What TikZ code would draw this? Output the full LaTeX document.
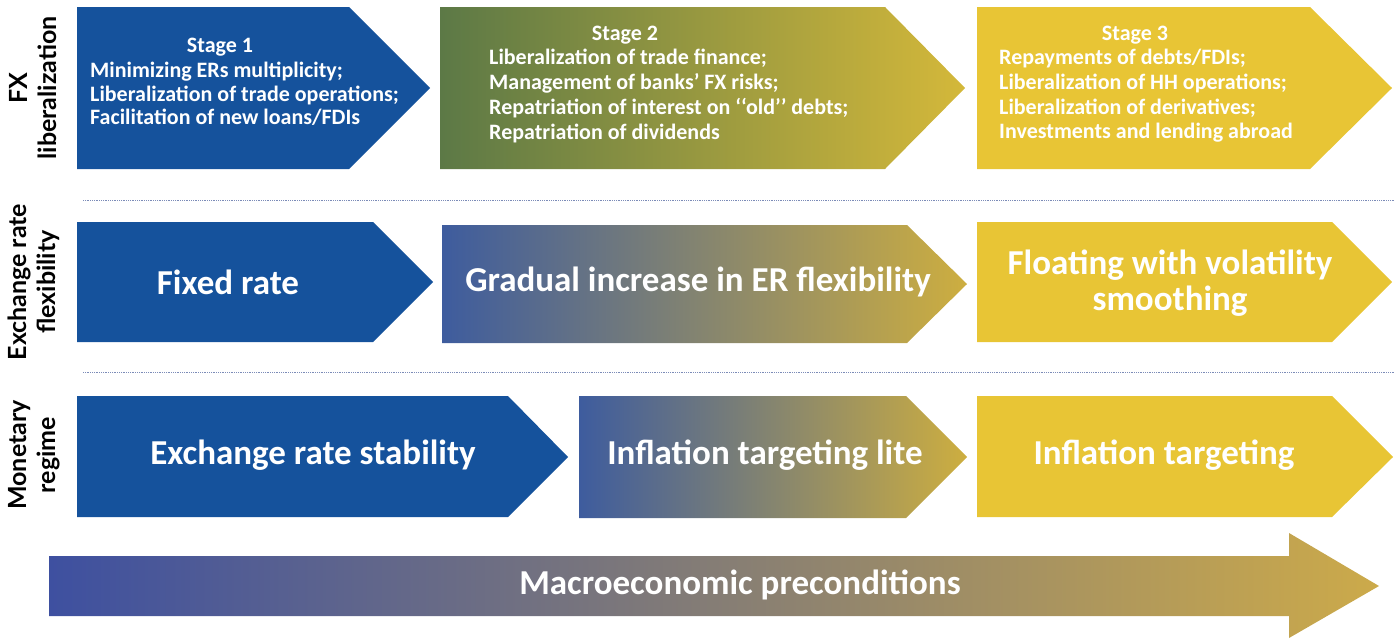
\documentclass[tikz,border=0pt]{standalone}
\usepackage{fontspec}
\setmainfont{Carlito}
\newfontfamily\rowfont{Lato}
\definecolor{erblue}{RGB}{21,82,156}
\definecolor{eryellow}{RGB}{232,197,53}
\definecolor{ergreen}{RGB}{92,121,70}
\definecolor{ergold}{RGB}{212,184,58}
\definecolor{ermidgreen}{RGB}{140,148,64}
\definecolor{erslate}{RGB}{62,92,158}
\definecolor{ergrey}{RGB}{140,138,130}
\definecolor{erochre}{RGB}{205,174,64}
\definecolor{erindigo}{RGB}{62,80,160}
\definecolor{ermauve}{RGB}{143,140,156}
\definecolor{ersand}{RGB}{204,170,74}
\definecolor{sepgrey}{RGB}{124,140,184}
\tikzset{
  bigtext/.style={text=white,font=\fontsize{35}{36}\selectfont\bfseries},
  stagetext/.style={text=white,align=left,inner sep=0pt,
    font=\fontsize{22}{23.3}\selectfont\bfseries},
  widestage/.style={stagetext,font=\fontsize{22}{24.7}\selectfont\bfseries},
  rowlabel/.style={rotate=90,align=center,font=\rowfont\bfseries\fontsize{25}{29}\selectfont},
  sepline/.style={draw=sepgrey,line width=0.8pt,dash pattern=on 0.8pt off 1pt},
}
\begin{document}
\begin{tikzpicture}[x=1pt,y=-1pt]
\useasboundingbox (0,0) rectangle (1400,640);
% row 1: FX liberalization
\fill[erblue] (77,7) -- (349,7) -- (430,88) -- (349,169) -- (77,169) -- cycle;
\shade[left color=ergreen,middle color=ermidgreen,right color=ergold]
  (440,7) -- (885,7) -- (965,88) -- (885,169) -- (440,169) -- cycle;
\fill[eryellow] (977,7) -- (1310,7) -- (1392,88) -- (1310,169) -- (977,169) -- cycle;
\node[stagetext] (st1) at (220,47) {Stage 1};
\node[stagetext,anchor=west] (fx1) at (90,94)
  {Minimizing ERs multiplicity;\\Liberalization of trade operations;\\
   Facilitation of new loans/FDIs};
\node[stagetext] (st2) at (625,35) {Stage 2};
\node[widestage,anchor=west] (fx2) at (489,96)
  {Liberalization of trade finance;\\Management of banks’ FX risks;\\
   Repatriation of interest on ‘‘old’’ debts;\\Repatriation of dividends};
\node[stagetext] (st3) at (1135,35) {Stage 3};
\node[widestage,anchor=west] (fx3) at (999,96)
  {Repayments of debts/FDIs;\\Liberalization of HH operations;\\
   Liberalization of derivatives;\\Investments and lending abroad};
\node[rowlabel] (lfx) at (33,88) {FX\\liberalization};
\draw[sepline] (83,200) -- (1395,200);
% row 2: exchange rate flexibility
\fill[erblue] (77,222) -- (373,222) -- (433,282) -- (373,342) -- (77,342) -- cycle;
\shade[left color=erslate,middle color=ergrey,right color=erochre]
  (442,225) -- (907,225) -- (967,284) -- (907,343) -- (442,343) -- cycle;
\fill[eryellow] (977,222) -- (1332,222) -- (1392,282) -- (1332,342) -- (977,342) -- cycle;
\node[bigtext] (fixed) at (228,282) {Fixed rate};
\node[bigtext] (gradual) at (698,282) {Gradual increase in ER flexibility};
\node[bigtext,align=center] (floating) at (1170,283) {Floating with volatility\\smoothing};
\node[rowlabel] (lfl) at (34,282) {Exchange rate\\flexibility};
\draw[sepline] (83,372) -- (1395,372);
% row 3: monetary regime
\fill[erblue] (77,396) -- (508,396) -- (568,457) -- (508,517) -- (77,517) -- cycle;
\shade[left color=erslate,middle color=ergrey,right color=erochre]
  (579,396) -- (906,396) -- (967,457) -- (906,518) -- (579,518) -- cycle;
\fill[eryellow] (977,396) -- (1332,396) -- (1393,457) -- (1332,517) -- (977,517) -- cycle;
\node[bigtext] (erstab) at (313,455) {Exchange rate stability};
\node[bigtext] (itlite) at (765,455) {Inflation targeting lite};
\node[bigtext] (itfull) at (1164,455) {Inflation targeting};
\node[rowlabel] (lmon) at (34,455) {Monetary\\regime};
% preconditions arrow
\shade[left color=erindigo,middle color=ermauve,right color=ersand]
  (49,556) -- (1289,556) -- (1289,533) -- (1379,586) -- (1289,638)
  -- (1289,616) -- (49,616) -- cycle;
\node[bigtext] (macro) at (740,585) {Macroeconomic preconditions};
\end{tikzpicture}
\end{document}
